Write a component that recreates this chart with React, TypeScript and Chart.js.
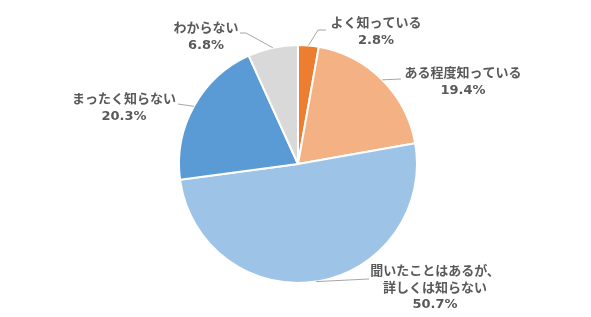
import React, { useEffect, useRef } from "react";
import { Chart, registerables } from "chart.js";

Chart.register(...registerables);

const categories = [
  "よく知っている",
  "ある程度知っている",
  "聞いたことはあるが、詳しくは知らない",
  "まったく知らない",
  "わからない",
];
const values = [2.8, 19.4, 50.7, 20.3, 6.8];
const labelLines = [
  ["よく知っている", "2.8%"],
  ["ある程度知っている", "19.4%"],
  ["聞いたことはあるが、", "詳しくは知らない", "50.7%"],
  ["まったく知らない", "20.3%"],
  ["わからない", "6.8%"],
];
const colors = ["#ED7D31", "#F4B183", "#9DC3E6", "#5B9BD5", "#D9D9D9"];

// label layout: text center x, first line center y, leader path (from slice edge) points
const labelLayout = [
  { x: 376, y: 24, path: [[318, 30], [326, 30]] },
  { x: 463, y: 74, path: [[401, 79]] },
  { x: 435, y: 272, path: [[369, 279]] },
  { x: 124, y: 100, path: [[178, 104]] },
  { x: 206, y: 29, path: [[246, 33], [240, 33]] },
];

const FONT = 'bold 13px "DejaVu Sans", "Noto Sans CJK JP", sans-serif';

const labelPlugin = {
  id: "pieLabels",
  afterDraw(chart: any) {
    const ctx = chart.ctx;
    const meta = chart.getDatasetMeta(0);
    ctx.save();
    meta.data.forEach((arc: any, i: number) => {
      const mid = (arc.startAngle + arc.endAngle) / 2;
      const r = arc.outerRadius;
      const ax = arc.x + Math.cos(mid) * r;
      const ay = arc.y + Math.sin(mid) * r;
      const lay = labelLayout[i];
      ctx.strokeStyle = "#A6A6A6";
      ctx.lineWidth = 1;
      ctx.beginPath();
      ctx.moveTo(ax, ay);
      lay.path.forEach((p) => ctx.lineTo(p[0], p[1]));
      ctx.stroke();
      ctx.fillStyle = "#595959";
      ctx.font = FONT;
      ctx.textAlign = "center";
      ctx.textBaseline = "middle";
      labelLines[i].forEach((t, j) => {
        ctx.fillText(t, lay.x, lay.y + j * 16.5);
      });
    });
    ctx.restore();
  },
};

export default function App() {
  const ref = useRef<HTMLCanvasElement>(null);
  useEffect(() => {
    if (!ref.current) return;
    const chart = new Chart(ref.current, {
      type: "pie",
      data: {
        labels: categories,
        datasets: [
          {
            data: values,
            backgroundColor: colors,
            borderColor: "#FFFFFF",
            borderWidth: 2,
          },
        ],
      },
      options: {
        animation: false,
        responsive: false,
        maintainAspectRatio: false,
        layout: { padding: { top: 44, bottom: 33, left: 178, right: 173 } },
        plugins: {
          legend: { display: false },
          tooltip: { enabled: false },
        },
      },
      plugins: [labelPlugin],
    });
    return () => chart.destroy();
  }, []);
  return (
    <div style={{ position: "fixed", left: 0, top: 0, width: 591, height: 317, background: "#fff" }}>
      <canvas ref={ref} width={591} height={317} style={{ width: 591, height: 317 }} />
    </div>
  );
}
